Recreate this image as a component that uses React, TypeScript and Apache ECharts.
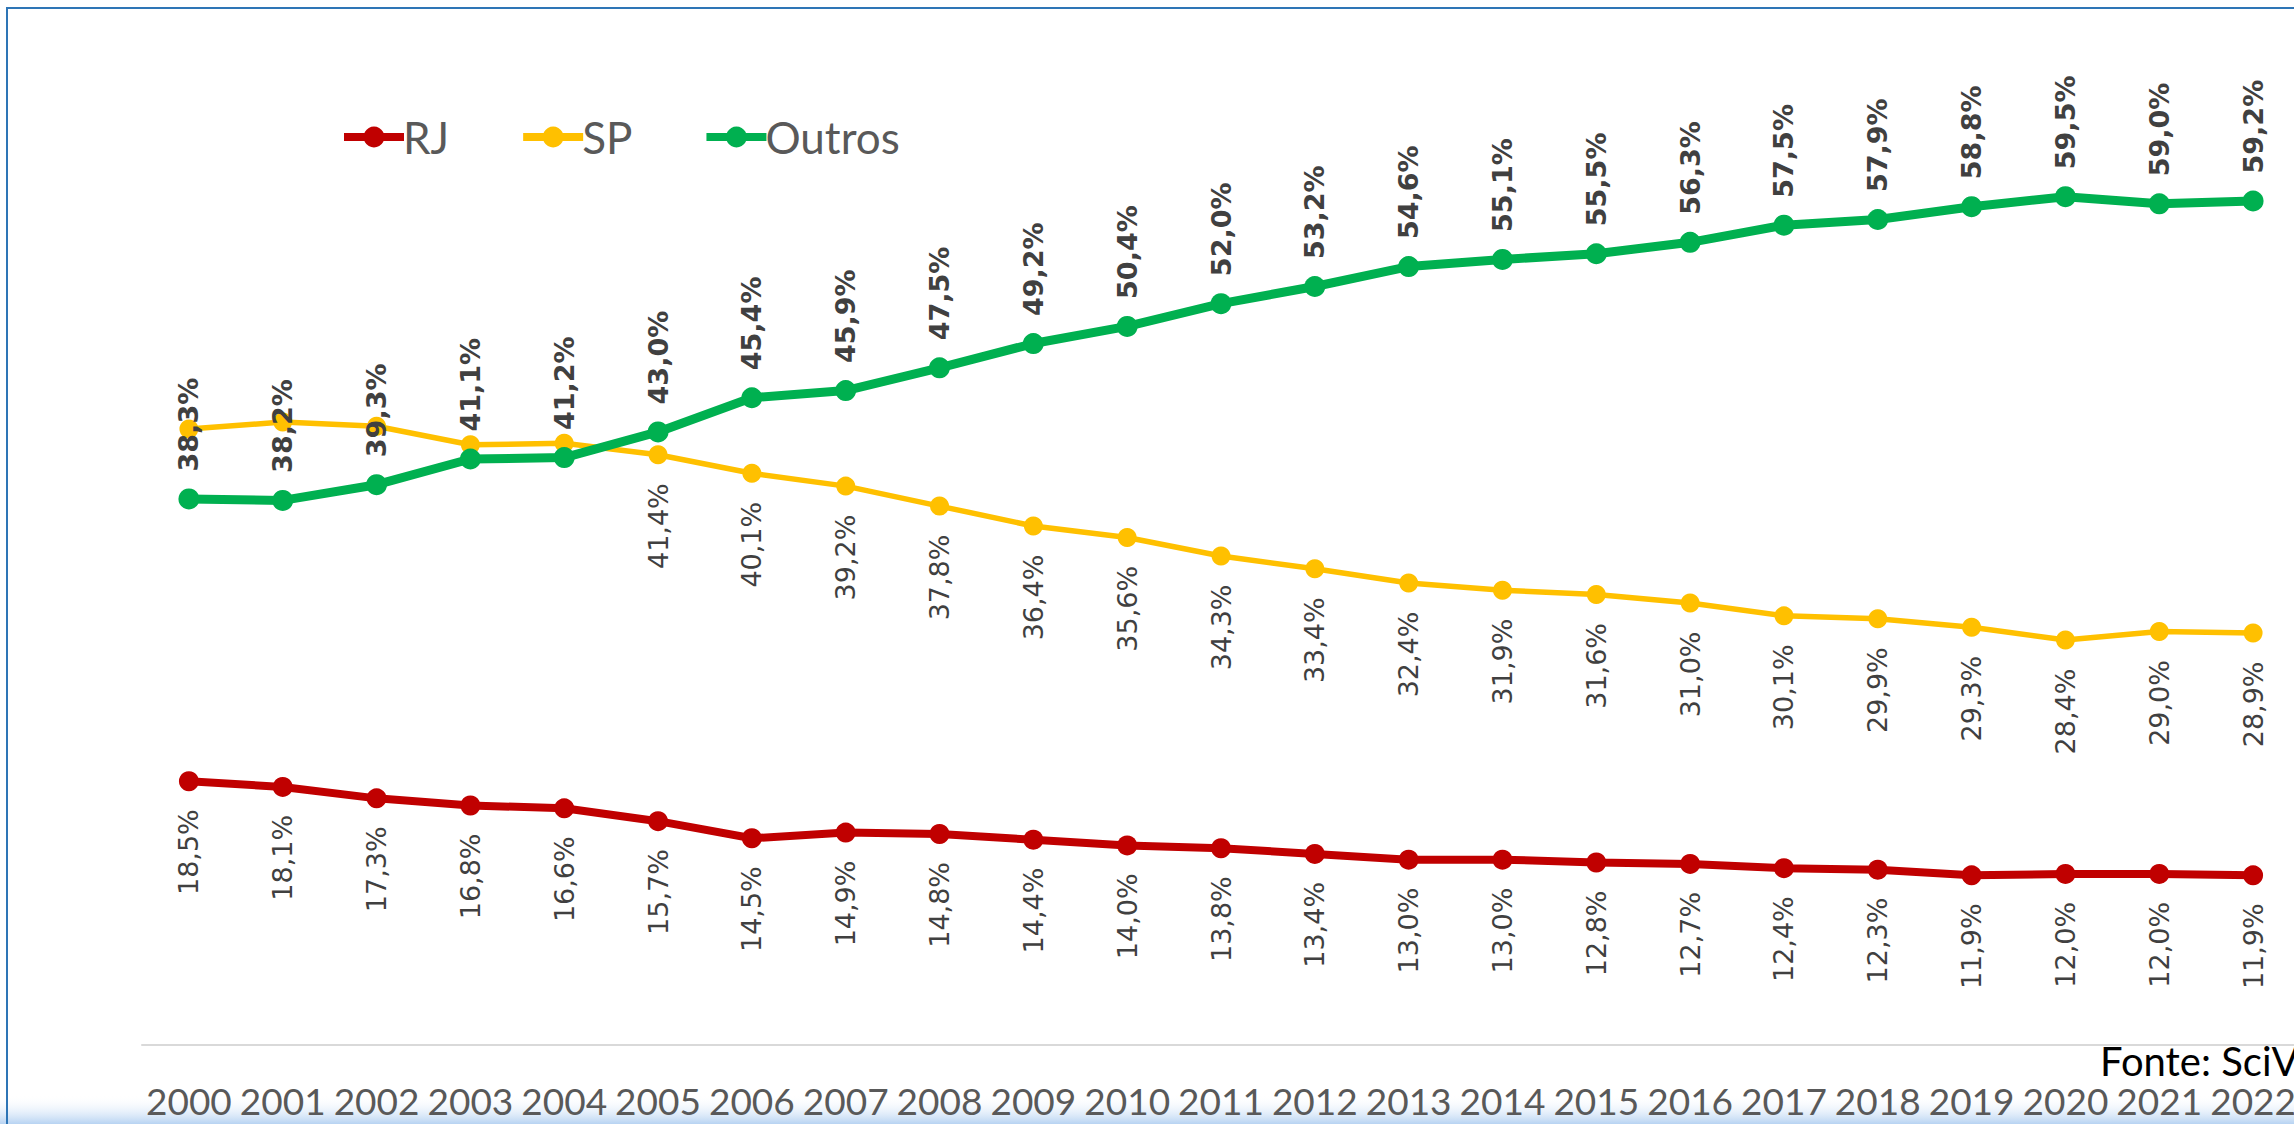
import React, { useEffect, useRef } from "react";
import * as echarts from "echarts";

const years = ["2000","2001","2002","2003","2004","2005","2006","2007","2008","2009","2010","2011","2012","2013","2014","2015","2016","2017","2018","2019","2020","2021","2022"];
const rjValues = [18.5,18.1,17.3,16.8,16.6,15.7,14.5,14.9,14.8,14.4,14.0,13.8,13.4,13.0,13.0,12.8,12.7,12.4,12.3,11.9,12.0,12.0,11.9];
const spValues = [43.2,43.7,43.4,42.1,42.2,41.4,40.1,39.2,37.8,36.4,35.6,34.3,33.4,32.4,31.9,31.6,31.0,30.1,29.9,29.3,28.4,29.0,28.9];
const outrosValues = [38.3,38.2,39.3,41.1,41.2,43.0,45.4,45.9,47.5,49.2,50.4,52.0,53.2,54.6,55.1,55.5,56.3,57.5,57.9,58.8,59.5,59.0,59.2];
// SP labels are not shown for the first years in the original
const spFirstLabelIndex = 5;
const seriesNames = ["RJ", "SP", "Outros"];
const sourceText = "Fonte: SciVal";

const fmt = (p: any) => {
  const v = typeof p.value === "number" ? p.value : Number(p.value);
  return v.toFixed(1).replace(".", ",") + "%";
};

export default function App() {
  const ref = useRef<HTMLDivElement>(null);
  useEffect(() => {
    if (!ref.current) return;
    const chart = echarts.init(ref.current, undefined, { renderer: "svg" });
    const labelFont = "'DejaVu Sans', sans-serif";
    const belowLabel = {
      show: true,
      position: "bottom",
      distance: 18,
      rotate: 90,
      align: "right",
      verticalAlign: "middle",
      fontFamily: labelFont,
      fontSize: 27,
      color: "#404040",
      formatter: fmt,
    };
    chart.setOption({
      animation: false,
      backgroundColor: "#ffffff",
      grid: { left: 142, right: -6, top: 47, bottom: 79, containLabel: false, outerBoundsMode: "none" },
      legend: {
        data: seriesNames,
        left: 335,
        top: 110,
        itemWidth: 60,
        itemHeight: 26,
        itemGap: 70,
        lineStyle: { width: 8 },
        textStyle: { fontFamily: "Lato, sans-serif", fontSize: 44, color: "#595959", padding: [0, 0, 0, -6] },
      },
      xAxis: {
        type: "category",
        data: years,
        boundaryGap: true,
        axisTick: { show: false },
        axisLine: { lineStyle: { color: "#D9D9D9", width: 2 } },
        axisLabel: {
          interval: 0,
          fontFamily: "Lato, sans-serif",
          fontSize: 37,
          color: "#595959",
          margin: 55,
          verticalAlign: "middle",
        },
        splitLine: { show: false },
      },
      yAxis: {
        type: "value",
        min: 0,
        max: 70,
        show: false,
        splitLine: { show: false },
      },
      graphic: [
        {
          type: "rect",
          z: -1,
          shape: { x: 0, y: 1095, width: 2294, height: 29 },
          style: {
            fill: new echarts.graphic.LinearGradient(0, 0, 0, 1, [
              { offset: 0, color: "rgba(255,255,255,0)" },
              { offset: 1, color: "#B7D3F2" },
            ]),
          },
        },
        {
          type: "rect",
          shape: { x: 7, y: 8, width: 2400, height: 1300 },
          style: { fill: "none", stroke: "#2E75B6", lineWidth: 2 },
        },
        {
          type: "text",
          x: 2100,
          y: 1061,
          style: {
            text: sourceText,
            fontFamily: "Lato, sans-serif",
            fontSize: 40,
            fill: "#000000",
            textAlign: "left",
            textVerticalAlign: "middle",
          },
        },
      ],
      series: [
        {
          name: "RJ",
          type: "line",
          data: rjValues,
          symbol: "circle",
          symbolSize: 20,
          lineStyle: { color: "#C00000", width: 8 },
          itemStyle: { color: "#C00000" },
          label: belowLabel,
        },
        {
          name: "SP",
          type: "line",
          data: spValues.map((v, i) => (i < spFirstLabelIndex ? { value: v, label: { show: false } } : v)),
          symbol: "circle",
          symbolSize: 19,
          lineStyle: { color: "#FFC000", width: 5.5 },
          itemStyle: { color: "#FFC000" },
          label: { ...belowLabel, distance: 19 },
        },
        {
          name: "Outros",
          type: "line",
          data: outrosValues,
          symbol: "circle",
          symbolSize: 21,
          lineStyle: { color: "#00B050", width: 9 },
          itemStyle: { color: "#00B050" },
          label: {
            show: true,
            position: "top",
            distance: 17,
            rotate: 90,
            align: "left",
            verticalAlign: "middle",
            fontFamily: labelFont,
            fontWeight: "bold",
            fontSize: 27,
            color: "#404040",
            formatter: fmt,
          },
        },
      ],
    });
    return () => chart.dispose();
  }, []);
  return (
    <div
      ref={ref}
      style={{ position: "absolute", left: 0, top: 0, width: 2294, height: 1124, overflow: "hidden" }}
    />
  );
}
